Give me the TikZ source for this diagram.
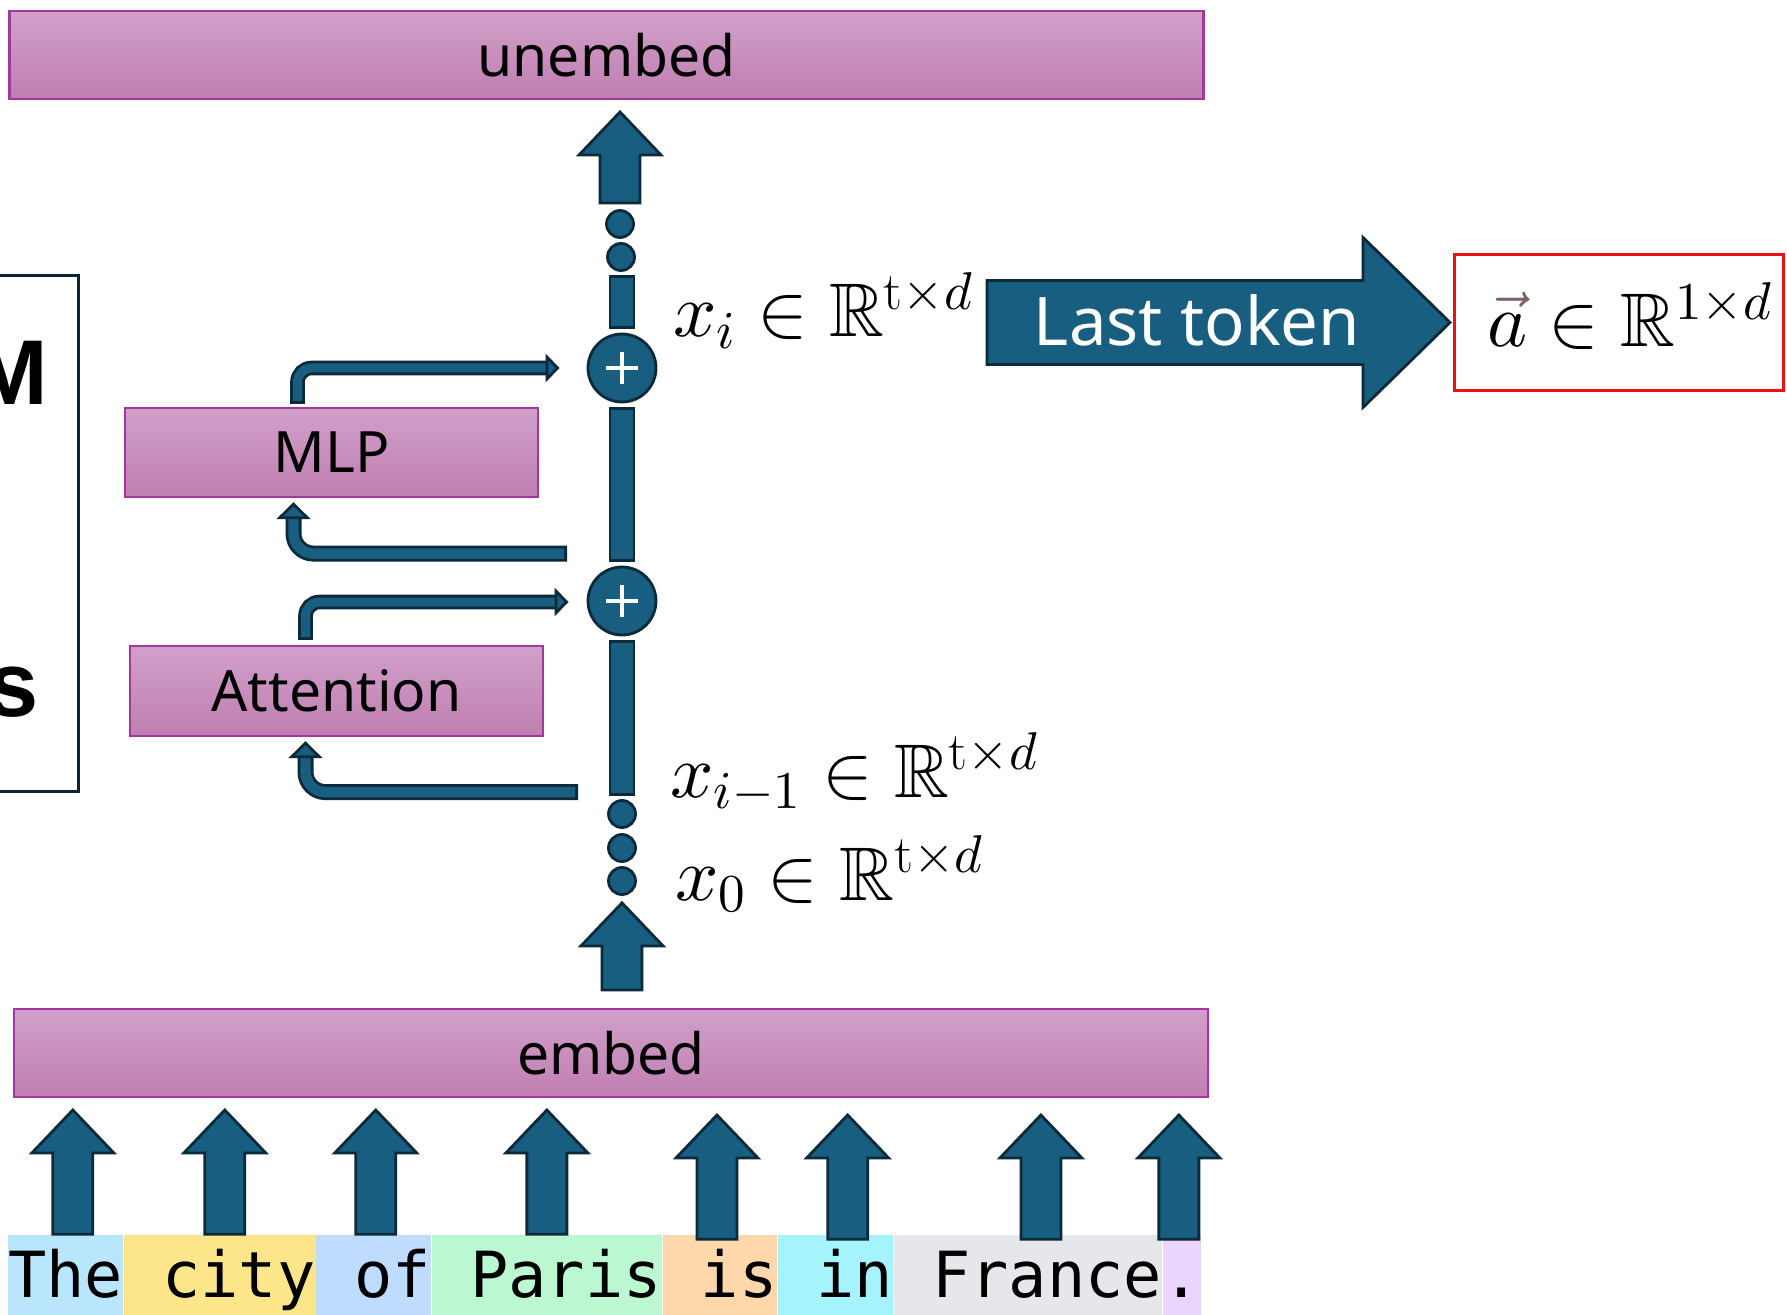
\documentclass[tikz,border=0pt]{standalone}
\usepackage{amsmath,amssymb}
\usepackage{fontspec}
\usepackage{xcolor}
\usetikzlibrary{calc,positioning,arrows.meta}

\newfontfamily\labfont{Noto Sans}
\newfontfamily\tokfont{DejaVu Sans Mono}
\newfontfamily\framefont{Liberation Sans}
% math fonts at any size
\DeclareFontShape{OML}{cmm}{m}{it}{<->cmmi10}{}
\DeclareFontShape{OMS}{cmsy}{m}{n}{<->cmsy10}{}
\DeclareFontShape{OMX}{cmex}{m}{n}{<->cmex10}{}
\DeclareFontShape{OT1}{cmr}{m}{n}{<->cmr10}{}
\DeclareFontFamily{U}{msb}{}
\DeclareFontShape{U}{msb}{m}{n}{<->msbm10}{}
\newcommand\mathsz{\fontsize{38}{41}\selectfont}

\definecolor{arrfill}{HTML}{185E80}
\definecolor{arrline}{HTML}{0C2A3A}
\definecolor{boxtop}{HTML}{D1A0C9}
\definecolor{boxbot}{HTML}{BF7EB1}
\definecolor{boxline}{HTML}{A5359F}
\definecolor{frameline}{HTML}{0D2433}
\definecolor{redbox}{HTML}{EE1111}
\definecolor{vecarrow}{HTML}{7E6262}
% token highlights
\definecolor{sky200}{HTML}{BAE6FD}
\definecolor{amber200}{HTML}{FDE68A}
\definecolor{blue200}{HTML}{BFDBFE}
\definecolor{green200}{HTML}{BBF7D0}
\definecolor{orange200}{HTML}{FED7AA}
\definecolor{cyan200}{HTML}{A5F3FC}
\definecolor{gray200}{HTML}{E5E7EB}
\definecolor{purple200}{HTML}{E9D5FF}

\tikzset{
  block/.style={draw=boxline, line width=1.2pt, top color=boxtop, bottom color=boxbot,
    inner sep=0, font=\labfont\fontsize{28.5}{30}\selectfont},
  dot/.style={circle, draw=arrline, fill=arrfill, line width=1.4pt, minimum size=13.5pt, inner sep=0},
  sumnode/.style={circle, draw=arrline, fill=arrfill, line width=1.4pt, minimum size=34pt, inner sep=0,
    path picture={
      \draw[white, line width=2.4pt] (path picture bounding box.center) ++(-8pt,0) -- ++(16pt,0);
      \draw[white, line width=2.4pt] (path picture bounding box.center) ++(0,-8pt) -- ++(0,16pt);}},
  stembar/.style={draw=arrline, fill=arrfill, line width=1.4pt,
    to path={let \p1=(\tikztostart), \p2=(\tikztotarget) in
      (\x1-6pt,\y1+2.5pt) rectangle (\x1+6pt,\y2-2.5pt)}},
  fatup/.style={draw=arrline, fill=arrfill, line width=1.4pt, line join=miter,
    to path={let \p1=(\tikztostart), \p2=(\tikztotarget) in
      (\x1-10pt,\y1) -- (\x1-10pt,\y2-21.5pt) -- (\x1-20.5pt,\y2-21.5pt) -- (\x1,\y2)
      -- (\x1+20.5pt,\y2-21.5pt) -- (\x1+10pt,\y2-21.5pt) -- (\x1+10pt,\y1) -- cycle}},
  fatright/.style={draw=arrline, fill=arrfill, line width=1.4pt, line join=miter,
    to path={let \p1=(\tikztostart), \p2=(\tikztotarget) in
      (\x1,\y1-21pt) -- (\x2-43.5pt,\y1-21pt) -- (\x2-43.5pt,\y1-42.5pt) -- (\x2,\y1)
      -- (\x2-43.5pt,\y1+42.5pt) -- (\x2-43.5pt,\y1+21pt) -- (\x1,\y1+21pt) -- cycle}},
  outarr/.style={draw=arrfill, line width=4.5pt, rounded corners=7pt, shorten <=1.4pt,
    -{Triangle[length=7pt, width=14pt, color=arrline, fill=arrfill, line width=1.4pt]},
    preaction={draw=arrline, line width=7.3pt, arrows=-, shorten <=0pt, shorten >=6pt}},
  inarr/.style={draw=arrfill, line width=5.2pt, rounded corners=10pt, shorten <=1.4pt,
    -{Triangle[length=8.5pt, width=17pt, color=arrline, fill=arrfill, line width=1.4pt]},
    preaction={draw=arrline, line width=8pt, arrows=-, shorten <=0pt, shorten >=7.5pt}},
  mathlbl/.style={anchor=base west, inner sep=0, font=\mathsz},
  framelbl/.style={inner sep=0, font=\framefont\bfseries\fontsize{46}{48}\selectfont},
  tok/.style={fill=#1, inner sep=0, text height=31.5pt, text depth=8.5pt,
    font=\tokfont\fontsize{31.8}{34}\selectfont}
}

\begin{document}
\begin{tikzpicture}[x=0.5pt, y=-0.5pt]
  \useasboundingbox (0,0) rectangle (1787,1315);
  \clip (0,0) rectangle (1787,1315);

  % outer frame, cut by the left edge
  \draw[frameline, line width=1.5pt] (-60,276) rectangle (78,791);
  \node[framelbl, anchor=base east] (fm) at (49,405) {M};
  \node[framelbl, anchor=base east] (fs) at (39,716) {s};

  % blocks
  \node[block, minimum width=597pt, minimum height=43.8pt] (unemb) at (606.5,55) {unembed};
  \node[block, minimum width=597pt, minimum height=43.8pt] (emb) at (611,1053) {embed};
  \node[block, minimum width=206.5pt, minimum height=44.5pt] (mlp) at (331.5,452.5) {MLP};
  \node[block, minimum width=206.5pt, minimum height=45pt] (att) at (336.5,691) {Attention};

  % residual stream
  \node[dot] (da) at (620,224) {};
  \node[dot] (db) at (621,257) {};
  \node[sumnode] (p1) at (622,368) {};
  \node[sumnode] (p2) at (622,601) {};
  \node[dot] (dc) at (622,814) {};
  \node[dot] (dd) at (622,848) {};
  \node[dot] (de) at (622,881) {};

  \draw[stembar] (p1.north) to (db.south);
  \draw[stembar] (p2.north) to (p1.south);
  \draw[stembar] (dc.north) to (p2.south);

  \draw[fatup] ($(da.north)+(0,-6)$) to ($(da.north |- unemb.south)+(0,12)$);
  \draw[fatup] ($(de.south |- emb.north)+(0,-18)$) to ($(de.south)+(0,7)$);

  % branches into and out of the sublayers
  \draw[outarr] ($(mlp.north)+(-34,-3)$) |- ($(p1.west)+(-27,0)$);
  \draw[inarr] ($(p2.north)+(-55,-12)$) -| ($(mlp.south)+(-38,4)$);
  \draw[outarr] ($(att.north)+(-31,-5)$) |- ($(p2.west)+(-18,1)$);
  \draw[inarr] ($(dc.north)+(-44,-7)$) -| ($(att.south)+(-31,4)$);

  \node[mathlbl] (xi) at (673,337) {$x_i \in \mathbb{R}^{\mathrm{t}\times d}$};
  \node[mathlbl] (xim) at (670,797) {$x_{i-1} \in \mathbb{R}^{\mathrm{t}\times d}$};
  \node[mathlbl] (xz) at (675,900) {$x_0 \in \mathbb{R}^{\mathrm{t}\times d}$};

  % last token read-out
  \node[draw=redbox, line width=1.5pt, minimum width=164.5pt, minimum height=68pt, inner sep=0] (avec) at (1619,322.5) {};
  \node[mathlbl] (aval) at ($(avec.west)+(34,24.5)$) {${\color{vecarrow}\vec{\color{black}a}} \in \mathbb{R}^{1\times d}$};
  \coordinate (ltail) at (987,322.5);
  \draw[fatright] (ltail) to ($(avec.west)+(-3,0)$);
  \node[anchor=base, inner sep=0, text=white, font=\labfont\fontsize{33.5}{36}\selectfont] (lt)
    at ($(ltail)+(210,23.5)$) {Last token};

  % tokens
  \node[tok=sky200, anchor=south west] (tThe) at (8,1315) {The};
  \node[tok=amber200, right=0pt of tThe] (tCity) {\ city};
  \node[tok=blue200, right=0pt of tCity] (tOf) {\ of};
  \node[tok=green200, right=0pt of tOf] (tParis) {\ Paris};
  \node[tok=orange200, right=0pt of tParis] (tIs) {\ is};
  \node[tok=cyan200, right=0pt of tIs] (tIn) {\ in};
  \node[tok=gray200, right=0pt of tIn] (tFrance) {\ France};
  \node[tok=purple200, right=0pt of tFrance] (tDot) {.};

  \foreach \t/\dx/\dy in {tThe/7/0, tCity/5/0, tOf/2/0, tParis/0/0, tIs/-3/5, tIn/12/5, tFrance/13/5, tDot/-3/5}
    \draw[fatup] ($(\t.north)+(\dx,\dy)$) to ($(\t.north |- emb.south)+(\dx,12+\dy)$);
\end{tikzpicture}
\end{document}
